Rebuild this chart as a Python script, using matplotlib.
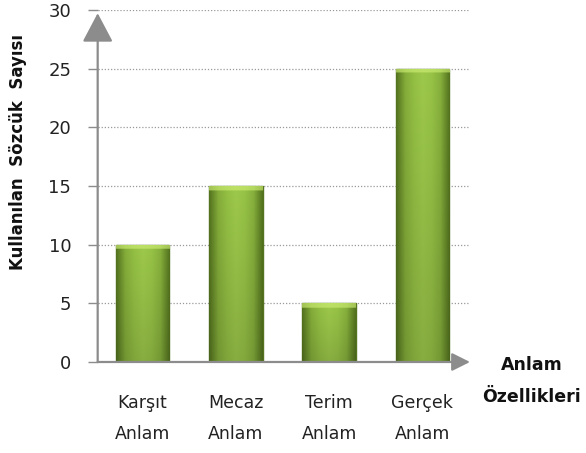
import numpy as np
import matplotlib.pyplot as plt
from matplotlib.colors import LinearSegmentedColormap

# veri
kategoriler = ['Karşıt\nAnlam', 'Mecaz\nAnlam', 'Terim\nAnlam', 'Gerçek\nAnlam']
sozcuk_sayisi = [10, 15, 5, 25]
y_ticks = [0, 5, 10, 15, 20, 25, 30]

plt.rcParams['font.family'] = ['DejaVu Sans']

fig = plt.figure(figsize=(5.86, 4.53), dpi=100)
ax = fig.add_axes([0.1667, 0.2009, 0.6353, 0.777])

x = np.arange(len(kategoriler))
bars = ax.bar(x, sozcuk_sayisi, width=0.575, color='#8fb73e',
              edgecolor='#55741f', linewidth=1.0, zorder=3)

# yeşil degrade (kenarlar koyu, orta açık)
cmap = LinearSegmentedColormap.from_list(
    'yesil', ['#55741f', '#84ad3a', '#94c044', '#9dc94b', '#97c346', '#86b03c', '#55741f'])
yatay = np.linspace(0, 1, 60)
for b in bars:
    x0, w, h = b.get_x(), b.get_width(), b.get_height()
    satir = 200
    dikey = np.linspace(1.0, 0.78, satir)[:, None]
    img = cmap(yatay)[None, :, :3] * np.ones((satir, 1, 1))
    img = img * dikey[:, :, None] ** 0.6
    # üst kısımda parlak şerit
    ust = max(1, int(round(satir * 0.4 / h)))
    img[:ust] = img[:ust] * 0.35 + np.array([0.80, 0.93, 0.45]) * 0.65
    im = ax.imshow(img, extent=[x0, x0 + w, 0, h], aspect='auto', zorder=3,
                   interpolation='bilinear')
    im.set_clip_path(b)

ax.set_xlim(-0.48, 3.51)
ax.set_ylim(0, 30)
ax.set_yticks(y_ticks)
ax.set_xticks(x)
ax.set_xticklabels(kategoriler, fontsize=12.5, linespacing=1.9, color='#222222')
ax.tick_params(axis='x', length=0, pad=23)
ax.tick_params(axis='y', length=7, width=1, color='#8c8c8c', pad=12,
               labelsize=13, labelcolor='#222222')

ax.grid(axis='y', linestyle=(0, (1, 1.5)), color='#9a9a9a', linewidth=0.9, zorder=0)
for s in ax.spines.values():
    s.set_visible(False)

# oklar
ax.annotate('', xy=(0, 0.991), xytext=(0, 0), xycoords='axes fraction',
            arrowprops=dict(arrowstyle='-|>,head_length=1.8,head_width=0.95',
                            color='#8c8c8c', lw=1.6, mutation_scale=10,
                            shrinkA=0, shrinkB=0), annotation_clip=False, zorder=5)
ax.annotate('', xy=(1.0, 0), xytext=(0, 0), xycoords='axes fraction',
            arrowprops=dict(arrowstyle='-|>,head_length=1.1,head_width=0.55',
                            color='#8c8c8c', lw=1.6, mutation_scale=10,
                            shrinkA=0, shrinkB=0), annotation_clip=False, zorder=5)

ax.set_ylabel('Kullanılan  Sözcük  Sayısı', fontsize=12, fontweight='bold',
              color='#111111')
ax.yaxis.set_label_coords(-0.19, 0.597)
fig.text(0.907, 0.159, 'Anlam\nÖzellikleri', fontsize=12.5, fontweight='bold',
         ha='center', va='center', linespacing=2.0, color='#111111')

fig.savefig('out.png', dpi=100)
